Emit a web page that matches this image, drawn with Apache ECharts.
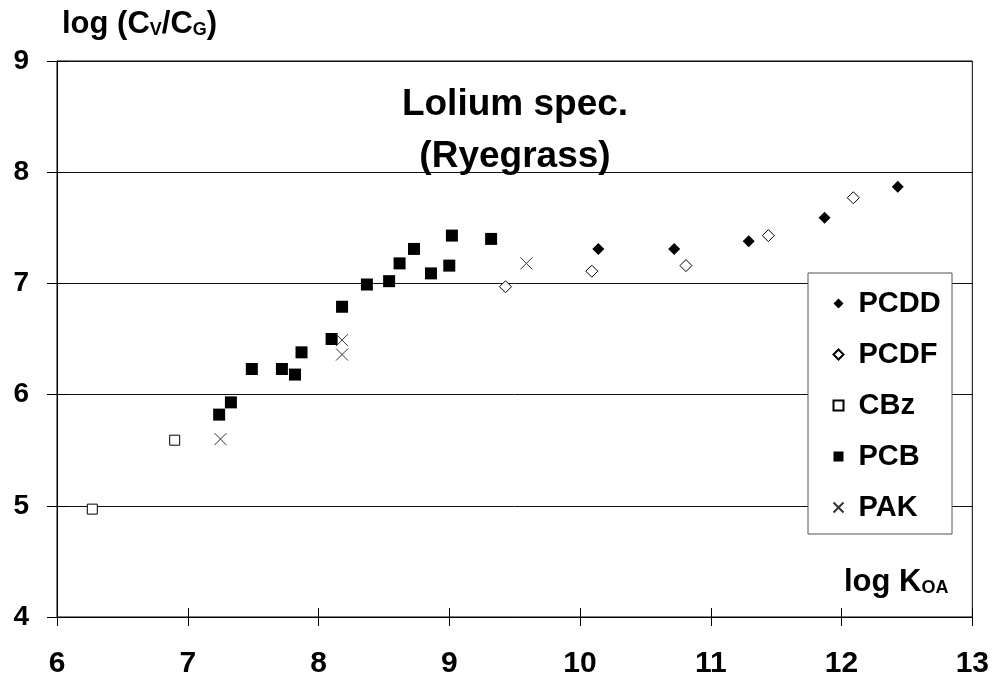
<!DOCTYPE html>
<html>
<head>
<meta charset="utf-8">
<script src="https://cdn.jsdelivr.net/npm/echarts@6/dist/echarts.min.js"></script>
<style>
  html, body { margin: 0; padding: 0; background: #fff; }
  #chart { width: 992px; height: 679px; }
</style>
</head>
<body>
<div id="chart"></div>
<script>
// log K_OA, log (Cv/Cg) pairs
var pcdd = [[10.14, 7.31], [10.72, 7.31], [11.29, 7.38], [11.87, 7.59], [12.43, 7.87]];
var pcdf = [[9.43, 6.97], [10.09, 7.11], [10.81, 7.16], [11.44, 7.43], [12.09, 7.77]];
var cbz = [[6.27, 4.97], [6.90, 5.59]];
var pcb = [[7.24, 5.82], [7.33, 5.93], [7.49, 6.23], [7.72, 6.23], [7.82, 6.18], [7.87, 6.38],
  [8.10, 6.50], [8.18, 6.79], [8.37, 6.99], [8.54, 7.02], [8.62, 7.18], [8.73, 7.31],
  [8.86, 7.09], [9.00, 7.16], [9.02, 7.43], [9.32, 7.40]];
var pak = [[7.25, 5.60], [8.18, 6.49], [8.18, 6.36], [9.59, 7.18]];

var FONT = '"Liberation Sans", Arial, sans-serif';
var crossMark = 'path://M0,0L10,10M10,0L0,10';

var chart = echarts.init(document.getElementById('chart'));

function xAxisBase(ticksInside, showLabels) {
  return {
    type: 'value', min: 6, max: 13, interval: 1, position: 'bottom',
    axisLine: { show: true, onZero: false, lineStyle: { color: '#000', width: 1 } },
    axisTick: { show: true, inside: ticksInside, length: 9, lineStyle: { color: '#000' } },
    axisLabel: {
      show: showLabels, margin: 32, color: '#000', fontFamily: FONT, fontWeight: 'bold', fontSize: 30,
      showMinLabel: true, showMaxLabel: true
    },
    splitLine: { show: false }
  };
}

function yAxisBase(ticksInside, showLabels) {
  return {
    type: 'value', min: 4, max: 9, interval: 1, position: 'left',
    axisLine: { show: true, onZero: false, lineStyle: { color: '#000', width: 1 } },
    axisTick: { show: true, inside: ticksInside, length: 10, lineStyle: { color: '#000' } },
    axisLabel: {
      show: showLabels, margin: 28, color: '#000', fontFamily: FONT, fontWeight: 'bold', fontSize: 28,
      showMinLabel: true, showMaxLabel: true
    },
    splitLine: { show: showLabels, lineStyle: { color: '#111', width: 1 } }
  };
}

var option = {
  backgroundColor: '#fff',
  animation: false,
  grid: { left: 57, right: 18, top: 61, bottom: 60, show: true, borderColor: '#000', borderWidth: 1 },
  xAxis: [xAxisBase(false, true), xAxisBase(true, false)],
  yAxis: [yAxisBase(false, true), yAxisBase(true, false)],
  legend: {
    orient: 'vertical', left: 826, top: 284, itemGap: 22,
    itemWidth: 10, itemHeight: 10,
    textStyle: { fontFamily: FONT, fontWeight: 'bold', fontSize: 29, lineHeight: 29, color: '#000', padding: [0, 0, 0, 10] },
    data: ['PCDD', 'PCDF', 'CBz', 'PCB', 'PAK'],
    z: 10
  },
  graphic: [
    {
      type: 'rect', z: 5,
      shape: { x: 808, y: 273, width: 144, height: 261 },
      style: { fill: '#fff', stroke: '#555', lineWidth: 1 }
    },
    {
      type: 'text', z: 6,
      style: {
        x: 515, y: 131, text: 'Lolium spec.\n(Ryegrass)', align: 'center', verticalAlign: 'middle',
        font: 'bold 37px ' + FONT, lineHeight: 52, fill: '#000'
      }
    },
    {
      type: 'text', z: 6,
      style: {
        x: 62, y: 24, verticalAlign: 'middle',
        text: '{a|log (C}{s|V}{a|/C}{s|G}{a|)}',
        rich: {
          a: { fontFamily: FONT, fontWeight: 'bold', fontSize: 31, fill: '#000' },
          s: { fontFamily: FONT, fontWeight: 'bold', fontSize: 18, fill: '#000', padding: [13, 0, 0, 0] }
        }
      }
    },
    {
      type: 'text', z: 6,
      style: {
        x: 844, y: 582, verticalAlign: 'middle',
        text: '{a|log K}{s|OA}',
        rich: {
          a: { fontFamily: FONT, fontWeight: 'bold', fontSize: 31, fill: '#000' },
          s: { fontFamily: FONT, fontWeight: 'bold', fontSize: 18, fill: '#000', padding: [13, 0, 0, 0] }
        }
      }
    }
  ],
  series: [
    {
      name: 'PCDD', type: 'scatter', data: pcdd, symbol: 'diamond', symbolSize: 12,
      itemStyle: { color: '#000', opacity: 1 }
    },
    {
      name: 'PCDF', type: 'scatter', data: pcdf, symbol: 'diamond', symbolSize: 12,
      itemStyle: { color: '#fff', borderColor: '#000', borderWidth: 1, opacity: 1 }
    },
    {
      name: 'CBz', type: 'scatter', data: cbz, symbol: 'rect', symbolSize: 10,
      itemStyle: { color: '#fff', borderColor: '#000', borderWidth: 1, opacity: 1 }
    },
    {
      name: 'PCB', type: 'scatter', data: pcb, symbol: 'rect', symbolSize: 12,
      itemStyle: { color: '#000', opacity: 1 }
    },
    {
      name: 'PAK', type: 'scatter', data: pak, symbol: crossMark, symbolSize: 12,
      itemStyle: { color: 'none', borderColor: '#333', borderWidth: 1, opacity: 1 }
    }
  ]
};

chart.setOption(option);
</script>
</body>
</html>
